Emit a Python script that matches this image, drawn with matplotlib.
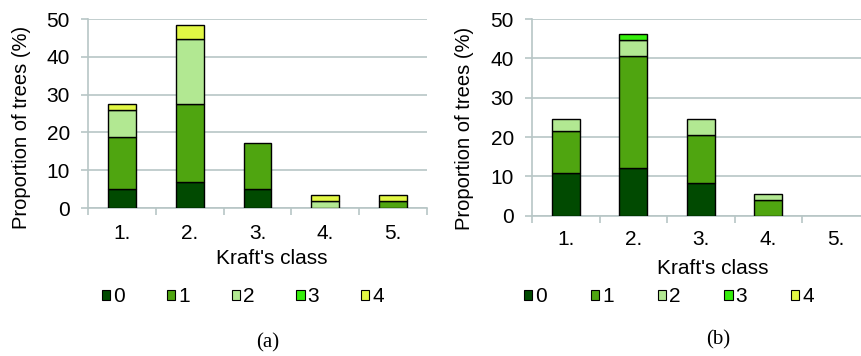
import matplotlib
matplotlib.use("Agg")
import numpy as np
import matplotlib.pyplot as plt
from matplotlib.patches import Patch

plt.rcParams['font.family'] = ['Liberation Sans', 'DejaVu Sans']

classes = ["1.", "2.", "3.", "4.", "5."]
damage = ["0", "1", "2", "3", "4"]
colors = ["#014a01", "#4fa510", "#b2e892", "#35ee0c", "#e2f744"]

# panel (a): share of trees per Kraft's class, stacked by damage level
a_0 = [5.1, 6.9, 5.1, 0, 0]
a_1 = [13.8, 20.5, 12.0, 0, 1.75]
a_2 = [6.9, 17.3, 0, 1.75, 0]
a_3 = [0, 0, 0, 0, 0]
a_4 = [1.8, 3.6, 0, 1.75, 1.75]

# panel (b)
b_0 = [10.9, 12.2, 8.2, 0, 0]
b_1 = [10.7, 28.3, 12.2, 4.0, 0]
b_2 = [2.9, 4.1, 4.1, 1.5, 0]
b_3 = [0, 1.5, 0, 0, 0]
b_4 = [0, 0, 0, 0, 0]

GRID = "#b7c6c6"
FS = 15


def stacked(ax, series, xpad):
    x = np.arange(len(classes))
    bottom = np.zeros(len(classes))
    for vals, c in zip(series, colors):
        vals = np.array(vals, dtype=float)
        keep = vals > 0
        ax.bar(x[keep], vals[keep], 0.41, bottom=bottom[keep], color=c,
               edgecolor="black", linewidth=1.0, zorder=3)
        bottom += vals
    ax.set_xlim(-0.5, 4.5)
    ax.set_ylim(0, 50)
    ax.set_yticks(range(0, 51, 10))
    ax.yaxis.grid(True, color=GRID, linewidth=1.2, zorder=0)
    for s in ["top", "right"]:
        ax.spines[s].set_visible(False)
    ax.spines["left"].set_color(GRID)
    ax.spines["bottom"].set_color(GRID)
    ax.spines["left"].set_linewidth(1.2)
    ax.spines["bottom"].set_linewidth(1.2)
    ax.set_xticks(x)
    ax.set_xticklabels(classes)
    ax.set_xticks(np.arange(-0.5, 5.0, 1.0), minor=True)
    ax.tick_params(axis="x", which="major", length=0, pad=xpad, labelsize=FS)
    ax.tick_params(axis="x", which="minor", length=5, width=1.2, color=GRID)
    ax.tick_params(axis="y", length=5, width=1.2, color=GRID, pad=8, labelsize=FS)


fig = plt.figure(figsize=(8.62, 3.56), dpi=100)
ax_a = fig.add_axes([0.1021, 0.4157, 0.3933, 0.5309])
ax_b = fig.add_axes([0.6172, 0.3940, 0.3915, 0.5525])

stacked(ax_a, [a_0, a_1, a_2, a_3, a_4], 11.5)
stacked(ax_b, [b_0, b_1, b_2, b_3, b_4], 10)

W, H = 862.0, 356.0
fig.text(22 / W, 1 - 127 / H, "Proportion of trees (%)", rotation=90,
         ha="center", va="center", fontsize=14.5)
fig.text(465 / W, 1 - 128 / H, "Proportion of trees (%)", rotation=90,
         ha="center", va="center", fontsize=14.5)
fig.text(272 / W, 1 - 258 / H, "Kraft's class", ha="center", va="center", fontsize=FS)
fig.text(713 / W, 1 - 268 / H, "Kraft's class", ha="center", va="center", fontsize=FS)

handles = [Patch(facecolor=c, edgecolor="black", linewidth=0.8) for c in colors]
for cx, gap in ((243, 2.0), (669, 2.1)):
    fig.legend(handles, damage, loc="center", bbox_to_anchor=(cx / W, 1 - 297 / H),
               ncol=5, frameon=False, fontsize=FS, handlelength=0.4,
               handleheight=0.4, handletextpad=0.15, columnspacing=gap,
               borderaxespad=0, borderpad=0)

fig.text(268 / W, 1 - 343 / H, "(a)", ha="center", va="center",
         fontsize=15, family="Liberation Serif")
fig.text(718 / W, 1 - 340 / H, "(b)", ha="center", va="center",
         fontsize=15, family="Liberation Serif")

fig.savefig("out.png", dpi=100)
